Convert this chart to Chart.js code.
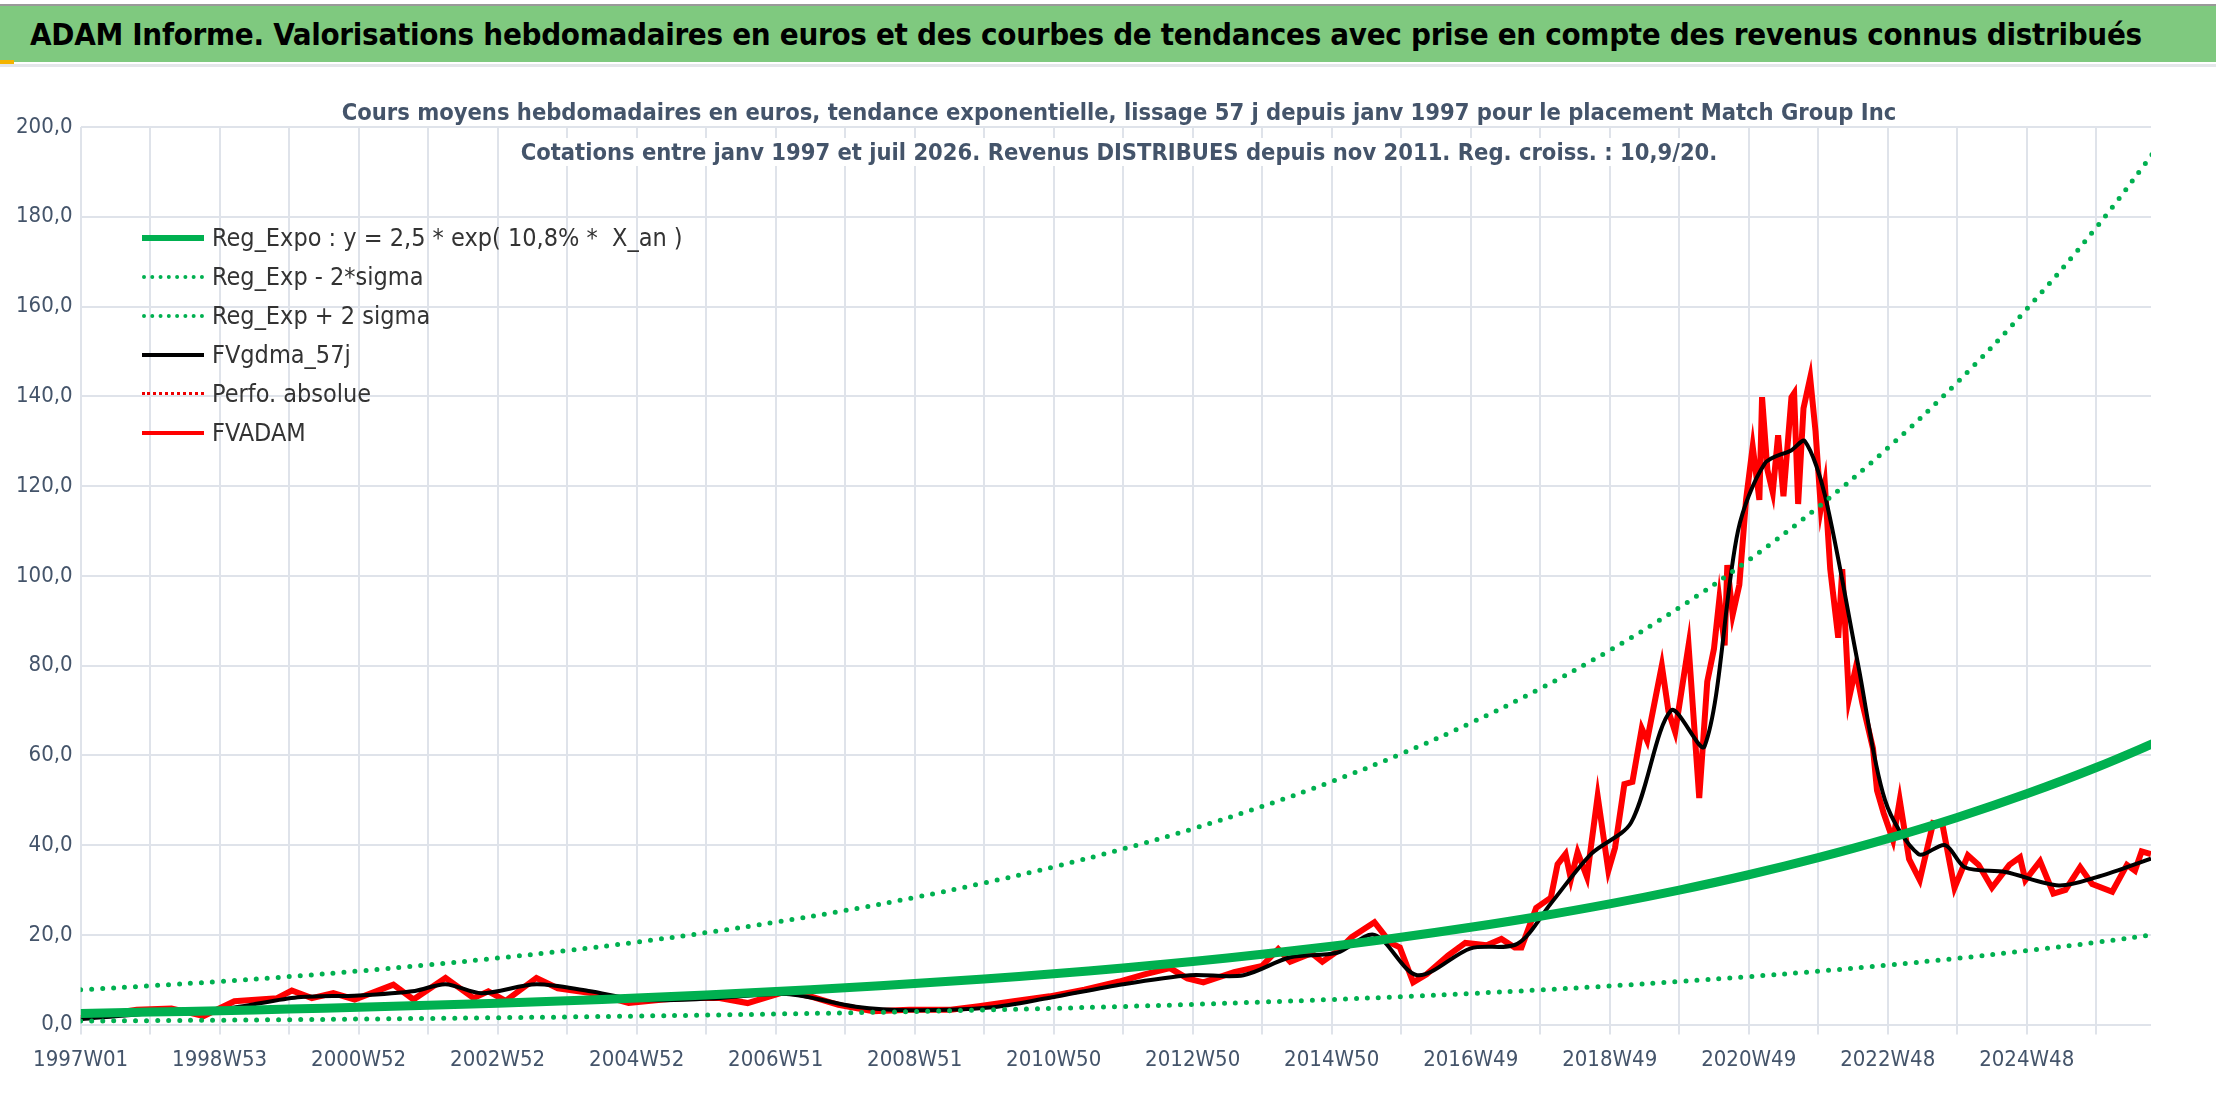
<!DOCTYPE html>
<html>
<head>
<meta charset="utf-8">
<script src="https://cdn.jsdelivr.net/npm/chart.js@4.4.1/dist/chart.umd.min.js"></script>
<style>
  body { margin: 0; width: 2216px; height: 1106px; background: #fff; overflow: hidden; font-family: "DejaVu Sans Condensed", "DejaVu Sans", sans-serif; }
  #entete { position: absolute; left: 0; top: 4px; width: 2216px; height: 56px; background: #7fc97f; border-top: 2px solid #999; }
  #entete h1 { margin: 0; padding-left: 30px; font-size: 31px; line-height: 56px; font-weight: bold; color: #000; white-space: nowrap; letter-spacing: -0.3px; }
  #coin { position: absolute; left: 0; top: 60px; width: 14px; height: 6px; background: #f4b400; }
  #cadre { position: absolute; left: 0; top: 64px; width: 2216px; height: 1030px; border-top: 3px solid #e4e6ea; }
  #titre { position: absolute; left: 0; top: 92px; width: 2216px; text-align: center; color: #44546a; font-weight: bold; font-size: 23.5px; line-height: 40px; }
  #titre span { background: #fff; padding: 0 6px; }
  #titre div { margin-left: 22px; }
  #legende { position: absolute; left: 142px; top: 218px; font-size: 25px; color: #333; white-space: pre; }
  .item { display: flex; align-items: center; height: 39px; }
  .trait { width: 62px; margin-right: 8px; }
</style>
</head>
<body>
<div id="entete"><h1>ADAM Informe. Valorisations hebdomadaires en euros et des courbes de tendances avec prise en compte des revenus connus distribués</h1></div>
<div id="coin"></div>
<div id="cadre"><canvas id="graphique" width="2216" height="1030"></canvas></div>
<div id="titre">
  <div><span>Cours moyens hebdomadaires en euros, tendance exponentielle, lissage 57 j depuis janv 1997 pour le placement Match Group Inc</span></div>
  <div><span>Cotations entre janv 1997 et juil 2026. Revenus DISTRIBUES depuis nov 2011. Reg. croiss. : 10,9/20.</span></div>
</div>
<div id="legende"></div>
<script>
// Etiquettes de l'axe X (toutes les 104 semaines)
const etiquettesX = ["1997W01", "1998W53", "2000W52", "2002W52", "2004W52", "2006W51", "2008W51",
  "2010W50", "2012W50", "2014W50", "2016W49", "2018W49", "2020W49", "2022W48", "2024W48"];

// Courbes de tendance, une valeur toutes les 52 semaines
const semainesTendance = [0, 52, 104, 156, 208, 260, 312, 364, 416, 468, 520, 572, 624, 676, 728, 780,
  832, 884, 936, 988, 1040, 1092, 1144, 1196, 1248, 1300, 1352, 1404, 1456, 1508, 1560];
const regExpo = [2.50, 2.79, 3.10, 3.45, 3.85, 4.29, 4.78, 5.32, 5.93, 6.61, 7.36, 8.20, 9.14, 10.18, 11.34,
  12.63, 14.07, 15.68, 17.47, 19.46, 21.68, 24.15, 26.90, 29.97, 33.39, 37.20, 41.44, 46.16, 51.43, 57.29, 63.83];
const regMoins2 = [0.80, 0.89, 0.99, 1.10, 1.23, 1.37, 1.53, 1.70, 1.90, 2.12, 2.36, 2.62, 2.92, 3.26, 3.63,
  4.04, 4.50, 5.02, 5.59, 6.23, 6.94, 7.73, 8.61, 9.59, 10.68, 11.90, 13.26, 14.77, 16.46, 18.33, 20.43];
const regPlus2 = [7.75, 8.65, 9.61, 10.70, 11.94, 13.30, 14.82, 16.49, 18.38, 20.49, 22.82, 25.42, 28.33, 31.56,
  35.15, 39.15, 43.62, 48.61, 54.16, 60.33, 67.21, 74.87, 83.39, 92.91, 103.51, 115.32, 128.46, 143.10, 159.43, 177.60, 197.87];

// FVADAM (semaine, valeur)
const semainesAdam = [0, 42, 68, 92, 115, 147, 158, 173, 189, 205, 234, 249, 273, 294, 305, 318, 341, 357, 383, 410,
  436, 452, 478, 499, 528, 546, 567, 593, 620, 651, 672, 698, 725, 751, 777, 796, 815, 828, 840, 863, 884, 896, 905,
  921, 929, 940, 951, 968, 980, 987, 997, 1007, 1023, 1036, 1052, 1063, 1073, 1078, 1089, 1100, 1105, 1111, 1115,
  1120, 1127, 1135, 1143, 1148, 1155, 1161, 1168, 1172, 1183, 1188, 1193, 1203, 1211, 1217, 1222, 1226, 1230, 1232,
  1236, 1241, 1246, 1251, 1256, 1258, 1262, 1266, 1270, 1274, 1280, 1282, 1285, 1289, 1294, 1298, 1302, 1305, 1309,
  1315, 1318, 1323, 1328, 1333, 1341, 1344, 1349, 1356, 1361, 1368, 1376, 1386, 1393, 1402, 1412, 1420, 1430, 1443,
  1451, 1455, 1466, 1476, 1485, 1496, 1505, 1520, 1531, 1537, 1542, 1549];
const valeursAdam = [1.5, 3.3, 3.6, 1.9, 5.2, 5.9, 7.6, 5.9, 7.0, 5.6, 8.9, 5.6, 10.4, 5.9, 7.4, 5.3, 10.4, 8.1, 7.0, 4.8,
  5.6, 5.9, 5.9, 4.8, 7.4, 6.3, 4.4, 3.0, 3.3, 3.3, 4.1, 5.2, 6.3, 7.8, 9.6, 11.2, 12.6, 10.3, 9.4, 11.7, 13.1, 16.8, 14.0,
  15.9, 14.0, 16.3, 19.5, 22.8, 18.2, 17.2, 9.4, 11.2, 15.4, 18.2, 17.7, 19.1, 17.2, 17.2, 26.0, 28.3, 35.7, 38.0, 32.4,
  38.4, 32.9, 50.9, 34.3, 39.4, 53.6, 54.1, 66.0, 63.3, 80.0, 69.8, 65.2, 84.5, 50.5, 76.4, 83.7, 94.7, 84.5, 102.4,
  91.3, 98.0, 116.9, 128.8, 116.9, 139.8, 123.6, 118.6, 131.3, 117.7, 139.8, 140.7, 116.0, 137.3, 144.1, 132.2, 115.1, 120.3, 101.5,
  86.2, 101.5, 72.6, 79.4, 71.7, 61.5, 52.2, 47.1, 41.1, 50.0, 36.9, 32.2, 44.9, 44.5, 30.5, 37.7, 35.6, 30.5, 35.6,
  37.3, 32.2, 36.4, 29.2, 30.0, 35.1, 31.3, 29.6, 35.6, 34.3, 38.6, 38.0];

// FVgdma_57j (moyenne lissée)
const semainesLisse = [0, 52, 104, 160, 208, 250, 273, 300, 341, 380, 420, 470, 528, 580, 620, 680, 725, 780, 830, 870,
  905, 940, 968, 1000, 1040, 1075, 1100, 1130, 1160, 1190, 1215, 1240, 1260, 1280, 1290, 1305, 1330, 1350, 1375,
  1395, 1410, 1440, 1480, 1510, 1549];
const valeursLisse = [1.2, 2.5, 3.3, 6.0, 6.5, 7.5, 9.0, 7.0, 9.0, 7.5, 5.5, 5.8, 6.8, 4.0, 3.2, 3.8, 6.0, 9.0, 11.0, 11.0,
  15.0, 16.0, 20.0, 11.0, 17.0, 18.0, 27.0, 38.0, 45.0, 70.0, 62.0, 110.0, 125.0, 128.0, 130.0, 118.0, 80.0, 50.0, 38.0,
  40.0, 35.0, 34.0, 31.0, 33.0, 37.0];

const perfoAbsolue = [];

const vert = "#00b050";
const police = "'DejaVu Sans Condensed', 'DejaVu Sans', sans-serif";
const points = (xs, ys) => xs.map((x, i) => ({ x: x, y: ys[i] }));

const jeux = [
  { label: "Reg_Expo : y = 2,5 * exp( 10,8% *  X_an )", data: points(semainesTendance, regExpo), borderColor: vert, borderWidth: 9, tension: 0.4 },
  { label: "Reg_Exp - 2*sigma", data: points(semainesTendance, regMoins2), borderColor: vert, borderWidth: 5, borderDash: [0, 11], borderCapStyle: "round", tension: 0.4 },
  { label: "Reg_Exp + 2 sigma", data: points(semainesTendance, regPlus2), borderColor: vert, borderWidth: 5, borderDash: [0, 11], borderCapStyle: "round", tension: 0.4 },
  { label: "FVgdma_57j", data: points(semainesLisse, valeursLisse), borderColor: "#000", borderWidth: 4, tension: 0.3 },
  { label: "Perfo. absolue", data: perfoAbsolue, borderColor: "#e00", borderWidth: 2, borderDash: [2, 3] },
  { label: "FVADAM", data: points(semainesAdam, valeursAdam), borderColor: "#ff0000", borderWidth: 6 },
];

new Chart(document.getElementById("graphique"), {
  type: "line",
  data: { datasets: jeux.map((j) => Object.assign({ pointRadius: 0, fill: false }, j)) },
  options: {
    responsive: false,
    animation: false,
    devicePixelRatio: 1,
    layout: { padding: { left: 8, right: 65, top: 60, bottom: 12 } },
    plugins: { legend: { display: false } },
    scales: {
      x: {
        type: "linear", min: 0, max: 1549,
        ticks: {
          stepSize: 52, autoSkip: false, maxRotation: 0, color: "#44546a", padding: 12,
          font: { family: police, size: 22 },
          callback: (v) => (v % 104 === 0 ? etiquettesX[v / 104] : ""),
        },
        afterBuildTicks: (axe) => { axe.ticks = []; for (let v = 0; v <= 1549; v += 52) axe.ticks.push({ value: v }); },
        grid: { color: "#dfe3ea", lineWidth: 2, tickLength: 10 },
        border: { display: false },
      },
      y: {
        min: 0, max: 200,
        ticks: { stepSize: 20, color: "#44546a", padding: 8, font: { family: police, size: 22 },
          callback: (v) => v.toFixed(1).replace(".", ",") },
        grid: { color: "#dfe3ea", lineWidth: 2, drawTicks: false },
        border: { display: false },
      },
    },
  },
});

// Légende verticale en haut à gauche
const legende = document.getElementById("legende");
jeux.forEach((j) => {
  const item = document.createElement("div");
  item.className = "item";
  const style = j.borderDash ? "dotted" : "solid";
  const epaisseur = j.borderWidth === 9 ? 6 : j.borderWidth === 2 ? 3 : 4;
  item.innerHTML = `<span class="trait" style="border-top:${epaisseur}px ${style} ${j.borderColor}"></span><span>${j.label}</span>`;
  legende.appendChild(item);
});
</script>
</body>
</html>
